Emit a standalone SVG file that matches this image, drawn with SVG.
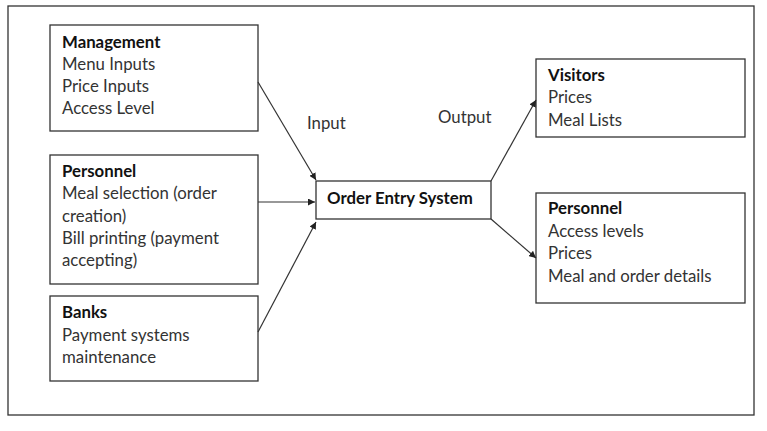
<svg xmlns="http://www.w3.org/2000/svg" width="767" height="431" viewBox="0 0 767 431">
<defs>
<marker id="ah" viewBox="0 0 10 10" refX="10" refY="5" markerWidth="7" markerHeight="7" markerUnits="userSpaceOnUse" orient="auto">
<path d="M0,0 L10,5 L0,10 z" fill="#222"/>
</marker>
<style>
.box{fill:#fff;stroke:#333;stroke-width:1.3}
.t{font-family:Lato,"Liberation Sans",sans-serif;font-size:16.8px;fill:#333}
.b{font-weight:bold;fill:#111}
.c{stroke:#333;stroke-width:1.2;fill:none;marker-end:url(#ah)}
</style>
</defs>
<rect x="0" y="0" width="767" height="431" fill="#fff"/>
<rect id="frame" x="8" y="6" width="746" height="409" fill="none" stroke="#333" stroke-width="1.3"/>
<g id="management">
<rect class="box" x="50" y="25" width="208" height="106"/>
<text class="t b" x="62" y="48">Management</text>
<text class="t" x="62" y="70">Menu Inputs</text>
<text class="t" x="62" y="92">Price Inputs</text>
<text class="t" x="62" y="114">Access Level</text>
</g>
<g id="personnel-in">
<rect class="box" x="50" y="155" width="208" height="129"/>
<text class="t b" x="62" y="177">Personnel</text>
<text class="t" x="62" y="199">Meal selection (order</text>
<text class="t" x="62" y="222">creation)</text>
<text class="t" x="62" y="244">Bill printing (payment</text>
<text class="t" x="62" y="266">accepting)</text>
</g>
<g id="banks">
<rect class="box" x="50" y="296" width="208" height="85"/>
<text class="t b" x="62" y="318">Banks</text>
<text class="t" x="62" y="341">Payment systems</text>
<text class="t" x="62" y="363">maintenance</text>
</g>
<g id="order-entry">
<rect class="box" x="316" y="181" width="175" height="38"/>
<text class="t b" x="327" y="204">Order Entry System</text>
</g>
<g id="visitors">
<rect class="box" x="536" y="59" width="209" height="78"/>
<text class="t b" x="548" y="81">Visitors</text>
<text class="t" x="548" y="103">Prices</text>
<text class="t" x="548" y="126">Meal Lists</text>
</g>
<g id="personnel-out">
<rect class="box" x="536" y="193" width="209" height="110"/>
<text class="t b" x="548" y="214">Personnel</text>
<text class="t" x="548" y="237">Access levels</text>
<text class="t" x="548" y="259">Prices</text>
<text class="t" x="548" y="282">Meal and order details</text>
</g>
<g id="labels">
<text class="t" x="307" y="129">Input</text>
<text class="t" x="438" y="123">Output</text>
</g>
<g id="connectors">
<line class="c" x1="258" y1="82" x2="316" y2="180"/>
<line class="c" x1="258" y1="202" x2="315" y2="202"/>
<line class="c" x1="258" y1="332" x2="316" y2="222"/>
<line class="c" x1="491" y1="181" x2="536" y2="100"/>
<line class="c" x1="491" y1="219" x2="536" y2="258"/>
</g>
</svg>
